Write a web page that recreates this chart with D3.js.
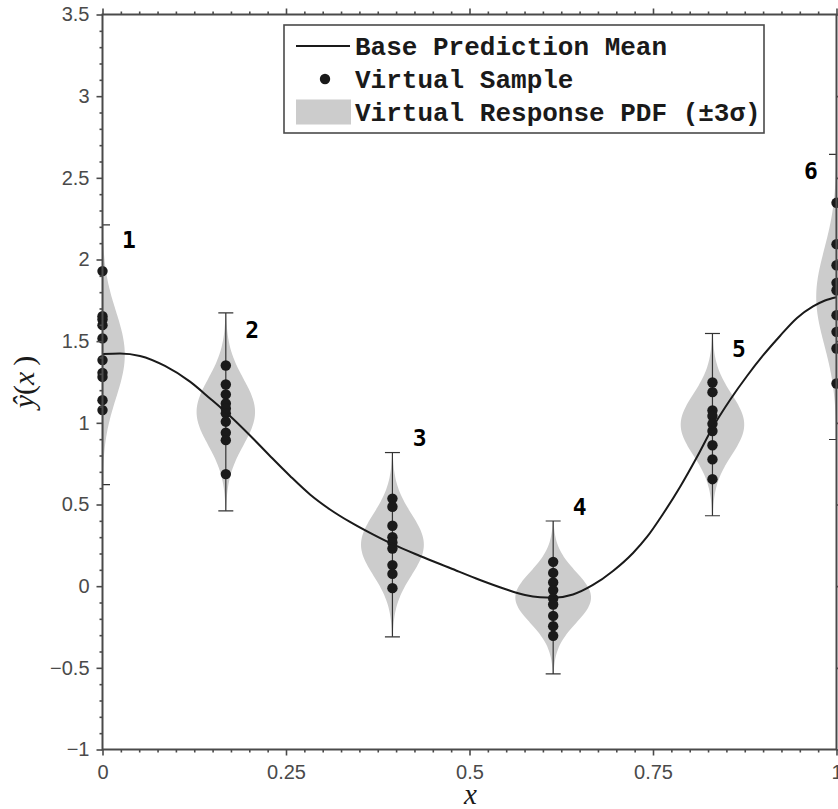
<!DOCTYPE html>
<html>
<head>
<meta charset="utf-8">
<script src="https://cdn.jsdelivr.net/npm/d3@7"></script>
<style>
  html, body { margin: 0; padding: 0; background: #fff; }
  svg { display: block; }
</style>
</head>
<body>
<svg id="chart" width="838" height="809"></svg>
<script>
// Sample locations and the virtual response at each one
const sampleX = [0, 0.168, 0.395, 0.614, 0.831, 1];
const responseMean = [1.417, 1.067, 0.254, -0.069, 0.989, 1.771];
const responseSigma = [0.265, 0.202, 0.188, 0.156, 0.186, 0.291];

// Virtual samples drawn at each location
const samples1 = [1.929, 1.653, 1.633, 1.598, 1.517, 1.384, 1.306, 1.281, 1.139, 1.078];
const samples2 = [1.351, 1.235, 1.174, 1.119, 1.088, 1.058, 1.007, 0.939, 0.894, 0.686];
const samples3 = [0.536, 0.486, 0.370, 0.300, 0.268, 0.230, 0.129, 0.075, -0.012];
const samples4 = [0.149, 0.081, 0.023, -0.024, -0.075, -0.112, -0.182, -0.245, -0.304];
const samples5 = [1.247, 1.188, 1.076, 1.042, 0.994, 0.950, 0.863, 0.776, 0.655];
const samples6 = [2.347, 2.094, 1.965, 1.857, 1.812, 1.659, 1.557, 1.455, 1.241];
const sampleSets = [samples1, samples2, samples3, samples4, samples5, samples6];

// Base prediction mean curve
const meanCurveX = [0, 0.0238, 0.0511, 0.0851, 0.1192, 0.1465, 0.1737, 0.2010, 0.2282, 0.2555,
  0.2827, 0.3100, 0.3372, 0.3645, 0.3958, 0.4326, 0.4734, 0.5143, 0.5484, 0.5756, 0.5961,
  0.6138, 0.6410, 0.6682, 0.6955, 0.7228, 0.7418, 0.7636, 0.7868, 0.8099, 0.8317, 0.8549,
  0.8781, 0.8999, 0.9230, 0.9462, 0.9680, 0.9843, 1.0];
const meanCurveY = [1.4216, 1.4247, 1.4094, 1.3482, 1.2521, 1.1492, 1.0420, 0.9227, 0.7972, 0.6747,
  0.5614, 0.4696, 0.3931, 0.3257, 0.2553, 0.1849, 0.1114, 0.0380, -0.0171, -0.0539, -0.0680,
  -0.0710, -0.0508, 0.0073, 0.0931, 0.2033, 0.3012, 0.4420, 0.6074, 0.7910, 0.9747, 1.1400,
  1.2869, 1.4125, 1.5319, 1.6421, 1.7125, 1.7492, 1.7688];

// Point number annotations
const pointLabels = ["1", "2", "3", "4", "5", "6"];
const pointLabelX = [0.036, 0.204, 0.432, 0.650, 0.867, 0.965];
const pointLabelY = [2.118, 1.569, 0.908, 0.484, 1.453, 2.544];

// Axes
const xTicks = [0, 0.25, 0.5, 0.75, 1];
const yTicks = [-1, -0.5, 0, 0.5, 1, 1.5, 2, 2.5, 3, 3.5];
const xDomain = [0, 1];
const yDomain = [-1, 3.5];

const legendLabels = ["Base Prediction Mean", "Virtual Sample", "Virtual Response PDF (\u00B13\u03C3)"];

const svg = d3.select("#chart");
const plot = { left: 102.5, right: 836.5, top: 14.5, bottom: 749.5 };
const axisColor = "#4a4a4a";
const inkColor = "#1a1a1a";
const violinFill = "#cccccc";

const x = d3.scaleLinear().domain(xDomain).range([plot.left, plot.right]);
const y = d3.scaleLinear().domain(yDomain).range([plot.bottom, plot.top]);

svg.append("defs").append("clipPath").attr("id", "plot-clip")
  .append("rect")
  .attr("x", plot.left).attr("y", plot.top)
  .attr("width", plot.right - plot.left).attr("height", plot.bottom - plot.top);

// Violins: Gaussian density spanning +/- 3 sigma
const pdfWidth = 0.0202; // x-units per unit of density
const violinLayer = svg.append("g").attr("clip-path", "url(#plot-clip)");
const violinArea = d3.area()
  .curve(d3.curveBasis)
  .y(d => y(d.v))
  .x0(d => x(d.c - d.w))
  .x1(d => x(d.c + d.w));

sampleX.forEach((cx, i) => {
  const m = responseMean[i], s = responseSigma[i];
  const pts = d3.range(-3, 3.0001, 0.1).map(t => ({
    c: cx,
    v: m + t * s,
    w: pdfWidth * Math.exp(-0.5 * t * t) / (s * Math.sqrt(2 * Math.PI))
  }));
  violinLayer.append("path").attr("d", violinArea(pts)).attr("fill", violinFill);
});

// Whiskers at +/- 3 sigma
const whiskerLayer = svg.append("g").attr("clip-path", "url(#plot-clip)")
  .attr("stroke", "#333").attr("stroke-width", 1.2).attr("fill", "none");
const capHalf = 7.5;
sampleX.forEach((cx, i) => {
  const lo = responseMean[i] - 3 * responseSigma[i];
  const hi = responseMean[i] + 3 * responseSigma[i];
  const px = x(cx);
  whiskerLayer.append("line").attr("x1", px).attr("x2", px).attr("y1", y(lo)).attr("y2", y(hi));
  [lo, hi].forEach(v => {
    whiskerLayer.append("line")
      .attr("x1", px - capHalf).attr("x2", px + capHalf)
      .attr("y1", y(v)).attr("y2", y(v));
  });
});

// Virtual samples
const dotLayer = svg.append("g").attr("fill", inkColor);
sampleSets.forEach((set, i) => {
  dotLayer.selectAll(null).data(set).enter().append("circle")
    .attr("cx", x(sampleX[i])).attr("cy", d => y(d)).attr("r", 5.2);
});

// Base prediction mean
const curveData = meanCurveX.map((v, i) => [v, meanCurveY[i]]);
svg.append("path")
  .attr("clip-path", "url(#plot-clip)")
  .attr("d", d3.line().curve(d3.curveMonotoneX).x(d => x(d[0])).y(d => y(d[1]))(curveData))
  .attr("fill", "none").attr("stroke", inkColor).attr("stroke-width", 2);

// Frame with major and minor ticks on every side
const xMinor = d3.range(0, 1.0001, 0.025).filter(v => !xTicks.some(t => Math.abs(t - v) < 1e-9));
const yMinor = d3.range(-1, 3.5001, 0.1).filter(v => !yTicks.some(t => Math.abs(t - v) < 1e-9));
const fmt = d3.format("");

function styleAxis(g) {
  g.select(".domain").remove();
  g.selectAll("line").attr("stroke", axisColor).attr("stroke-width", 1.6);
  g.selectAll("text").attr("fill", axisColor)
    .style("font-family", "'Liberation Sans', Arial, sans-serif").style("font-size", "20px");
}

const bottomMajor = svg.append("g").attr("transform", `translate(0,${plot.bottom})`)
  .call(d3.axisBottom(x).tickValues(xTicks).tickSize(6).tickPadding(9).tickFormat(fmt));
styleAxis(bottomMajor);
const bottomMinor = svg.append("g").attr("transform", `translate(0,${plot.bottom})`)
  .call(d3.axisBottom(x).tickValues(xMinor).tickSize(3).tickFormat(""));
styleAxis(bottomMinor);
const topMajor = svg.append("g").attr("transform", `translate(0,${plot.top})`)
  .call(d3.axisTop(x).tickValues(xTicks).tickSize(6).tickFormat(""));
styleAxis(topMajor);
const topMinor = svg.append("g").attr("transform", `translate(0,${plot.top})`)
  .call(d3.axisTop(x).tickValues(xMinor).tickSize(3).tickFormat(""));
styleAxis(topMinor);

const leftMajor = svg.append("g").attr("transform", `translate(${plot.left},0)`)
  .call(d3.axisLeft(y).tickValues(yTicks).tickSize(6).tickPadding(7).tickFormat(d3.format("")));
styleAxis(leftMajor);
const leftMinor = svg.append("g").attr("transform", `translate(${plot.left},0)`)
  .call(d3.axisLeft(y).tickValues(yMinor).tickSize(3).tickFormat(""));
styleAxis(leftMinor);
const rightMajor = svg.append("g").attr("transform", `translate(${plot.right},0)`)
  .call(d3.axisRight(y).tickValues(yTicks).tickSize(6).tickFormat(""));
styleAxis(rightMajor);

svg.append("rect")
  .attr("x", plot.left).attr("y", plot.top)
  .attr("width", plot.right - plot.left).attr("height", plot.bottom - plot.top)
  .attr("fill", "none").attr("stroke", axisColor).attr("stroke-width", 2);

// Axis titles
svg.append("text")
  .attr("x", (plot.left + plot.right) / 2 + 1).attr("y", 804)
  .attr("text-anchor", "middle")
  .style("font-family", "'Liberation Serif', 'DejaVu Serif', serif")
  .style("font-style", "italic").style("font-size", "29px").attr("fill", inkColor)
  .text("x");

const yTitle = svg.append("text")
  .attr("transform", "translate(34,382) rotate(-90)")
  .attr("text-anchor", "middle")
  .style("font-family", "'Liberation Serif', 'DejaVu Serif', serif")
  .style("font-size", "30px").attr("fill", inkColor);
yTitle.append("tspan").style("font-style", "italic").text("\u0177");
yTitle.append("tspan").text("(");
yTitle.append("tspan").style("font-style", "italic").text("x");
yTitle.append("tspan").text("\u2009)");

// Point numbers
svg.append("g").selectAll("text").data(pointLabels).enter().append("text")
  .attr("x", (d, i) => x(pointLabelX[i]))
  .attr("y", (d, i) => y(pointLabelY[i]))
  .attr("text-anchor", "middle").attr("dominant-baseline", "central")
  .style("font-family", "'DejaVu Sans Mono', monospace").style("font-weight", "bold")
  .style("font-size", "23px").attr("fill", "#000")
  .text(d => d);

// Legend
const legend = svg.append("g");
legend.append("rect")
  .attr("x", 284).attr("y", 25).attr("width", 480).attr("height", 108)
  .attr("fill", "#fff").attr("stroke", axisColor).attr("stroke-width", 1.6);
const rowY = [46, 79, 112];
legend.append("line").attr("x1", 296).attr("x2", 350).attr("y1", rowY[0]).attr("y2", rowY[0])
  .attr("stroke", inkColor).attr("stroke-width", 2);
legend.append("circle").attr("cx", 325).attr("cy", rowY[1]).attr("r", 5.2).attr("fill", inkColor);
legend.append("rect").attr("x", 296).attr("y", rowY[2] - 12.5).attr("width", 55).attr("height", 25)
  .attr("fill", violinFill);
legend.selectAll("text.entry").data(legendLabels).enter().append("text")
  .attr("class", "entry")
  .attr("x", 355).attr("y", (d, i) => rowY[i] + 9)
  .style("font-family", "'Liberation Mono', 'Courier New', monospace").style("font-weight", "bold")
  .style("font-size", "26px").attr("fill", inkColor)
  .text(d => d);
</script>
</body>
</html>
